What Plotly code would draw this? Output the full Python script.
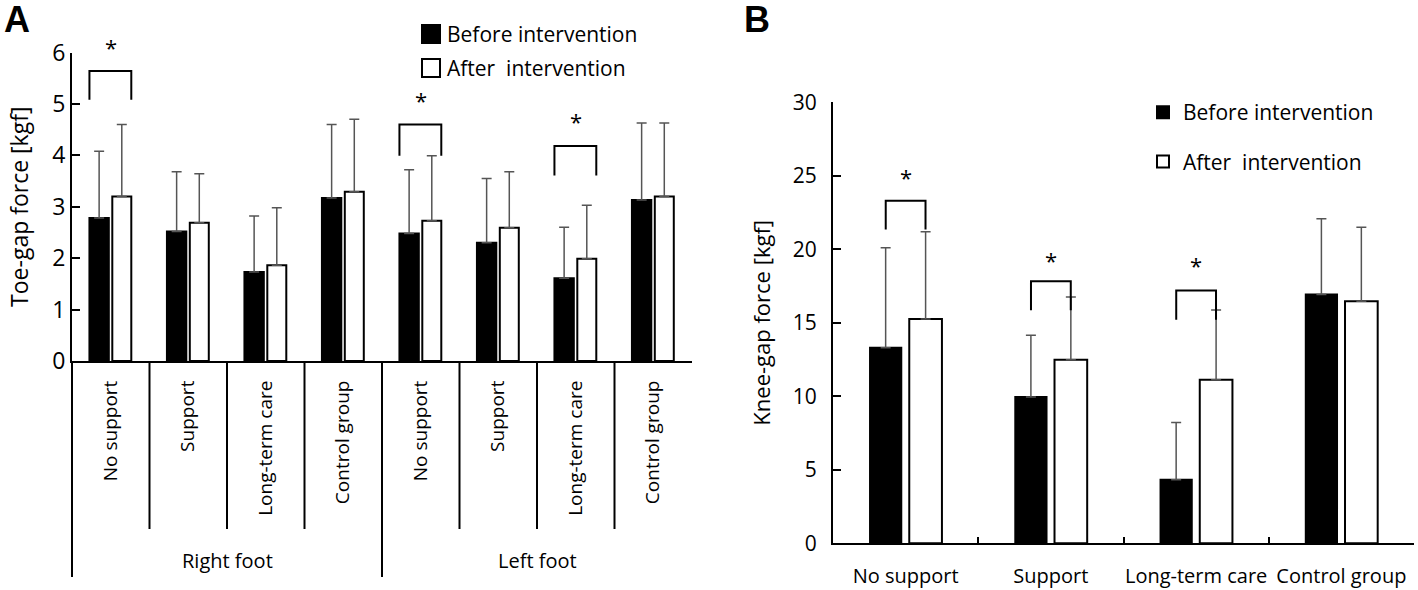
import plotly.graph_objects as go

W, H = 1418, 590
FONT = "Open Sans"

# ---------------- Panel A data (toe-gap force) ----------------
foot_groups = ["Right foot", "Left foot"]
categories_a = ["No support", "Support", "Long-term care", "Control group",
                "No support", "Support", "Long-term care", "Control group"]
toe_before = [2.78, 2.52, 1.73, 3.17, 2.48, 2.30, 1.61, 3.13]
toe_before_sd = [1.30, 1.16, 1.09, 1.43, 1.24, 1.25, 0.99, 1.50]
toe_after = [3.20, 2.69, 1.86, 3.29, 2.73, 2.59, 1.99, 3.20]
toe_after_sd = [1.40, 0.95, 1.12, 1.41, 1.26, 1.09, 1.04, 1.43]
sig_a_idx = [0, 4, 6]
sig_a_top = [5.64, 4.60, 4.18]
sig_a_leg = [5.08, 3.99, 3.61]
star_a_y = [6.13, 5.10, 4.68]
ymax_a = 6

# ---------------- Panel B data (knee-gap force) ----------------
categories_b = ["No support", "Support", "Long-term care", "Control group"]
knee_before = [13.3, 9.95, 4.32, 16.92]
knee_before_sd = [6.8, 4.2, 3.9, 5.15]
knee_after = [15.26, 12.48, 11.12, 16.47]
knee_after_sd = [5.94, 4.28, 4.75, 5.03]
sig_b_idx = [0, 1, 2]
sig_b_top = [23.3, 17.82, 17.2]
sig_b_leg = [21.34, 15.85, 15.2]
star_b_y = [25.0, 19.37, 18.98]
ymax_b = 30

series_names = ["Before intervention", "After  intervention"]


def px_x(p):
    return p / W


def px_y(p):
    return 1 - p / H


fig = go.Figure()

err_style = dict(type="data", symmetric=False, color="#555555", thickness=1.5)

# Panel A bars
xa = list(range(len(categories_a)))
fig.add_trace(go.Bar(
    x=xa, y=toe_before, name=series_names[0], xaxis="x", yaxis="y",
    marker=dict(color="black", line=dict(color="black", width=2)),
    width=0.25, offset=-0.275, showlegend=False,
    error_y=dict(array=toe_before_sd, arrayminus=[0] * len(xa), width=5, **err_style)))
fig.add_trace(go.Bar(
    x=xa, y=toe_after, name=series_names[1], xaxis="x", yaxis="y",
    marker=dict(color="white", line=dict(color="black", width=2)),
    width=0.245, offset=0.02, showlegend=False,
    error_y=dict(array=toe_after_sd, arrayminus=[0] * len(xa), width=5, **err_style)))

# Panel B bars
fig.add_trace(go.Bar(
    x=categories_b, y=knee_before, name=series_names[0], xaxis="x2", yaxis="y2",
    marker=dict(color="black", line=dict(color="black", width=2)),
    width=0.215, offset=-0.245, legendgroup="b1",
    error_y=dict(array=knee_before_sd, arrayminus=[0] * 4, width=5, **err_style)))
fig.add_trace(go.Bar(
    x=categories_b, y=knee_after, name=series_names[1], xaxis="x2", yaxis="y2",
    marker=dict(color="white", line=dict(color="black", width=2)),
    width=0.225, offset=0.025, legendgroup="b2",
    error_y=dict(array=knee_after_sd, arrayminus=[0] * 4, width=5, **err_style)))

shapes = []
annotations = []

# Significance brackets, panel A
for i, top, leg, sy in zip(sig_a_idx, sig_a_top, sig_a_leg, star_a_y):
    x0, x1 = i - 0.275, i + 0.265
    shapes.append(dict(type="path", xref="x", yref="y",
                       path=f"M{x0},{leg} L{x0},{top} L{x1},{top} L{x1},{leg}",
                       line=dict(color="black", width=2)))
    annotations.append(dict(x=i, y=sy / ymax_a, xref="x", yref="y domain", text="*",
                            showarrow=False, xanchor="center", yanchor="middle", yshift=-1,
                            font=dict(size=22, color="black", family=FONT)))

# Significance brackets, panel B
for i, top, leg, sy in zip(sig_b_idx, sig_b_top, sig_b_leg, star_b_y):
    x0, x1 = i - 0.137, i + 0.137
    shapes.append(dict(type="path", xref="x2", yref="y2",
                       path=f"M{x0},{leg} L{x0},{top} L{x1},{top} L{x1},{leg}",
                       line=dict(color="black", width=2)))
    annotations.append(dict(x=i, y=sy / ymax_b, xref="x2", yref="y2 domain", text="*",
                            showarrow=False, xanchor="center", yanchor="middle", yshift=-1,
                            font=dict(size=22, color="black", family=FONT)))

# Panel A category table dividers
n_a = len(categories_a)
per_group = n_a // len(foot_groups)
axis_y = px_y(361)
for k in range(n_a):
    outer = (k % per_group == 0)
    shapes.append(dict(type="line", xref="x domain", yref="paper",
                       x0=k / n_a, x1=k / n_a, y0=axis_y,
                       y1=px_y(577) if outer else px_y(529),
                       line=dict(color="black", width=2)))
for g, name in enumerate(foot_groups):
    annotations.append(dict(x=g * per_group + (per_group - 1) / 2, y=px_y(560),
                            xref="x", yref="paper", text=name, showarrow=False,
                            xanchor="center", yanchor="middle",
                            font=dict(size=20, color="black", family=FONT)))

# Panel A manual legend (large squares)
for row, (name, fill) in enumerate(zip(series_names, ["black", "white"])):
    cy = 34 + row * 34
    shapes.append(dict(type="rect", xref="paper", yref="paper",
                       x0=px_x(422), x1=px_x(440), y0=px_y(cy - 9), y1=px_y(cy + 9),
                       fillcolor=fill, line=dict(color="black", width=2)))
    annotations.append(dict(x=px_x(445), y=px_y(cy), xref="paper", yref="paper",
                            text=name, showarrow=False, xanchor="left", yanchor="middle",
                            font=dict(size=21, color="black", family=FONT)))

# Panel letters
for letter, lx in (("A", 17), ("B", 757)):
    annotations.append(dict(x=px_x(lx), y=1, xref="paper", yref="paper",
                            text=f"<b>{letter}</b>", showarrow=False,
                            xanchor="center", yanchor="top", yshift=3,
                            font=dict(size=36, color="black", family="Liberation Sans")))

axis_common = dict(showline=True, linecolor="black", linewidth=2, showgrid=False,
                   zeroline=False, mirror=False, automargin=False)

fig.update_layout(
    width=W, height=H,
    margin=dict(l=0, r=0, t=0, b=0, autoexpand=False),
    paper_bgcolor="white", plot_bgcolor="white",
    barmode="overlay",
    font=dict(family=FONT, color="black"),
    shapes=shapes, annotations=annotations,
    xaxis=dict(domain=[px_x(72), px_x(692)], range=[-0.5, n_a - 0.5], anchor="y",
               tickvals=xa, ticktext=categories_a, tickangle=-90, ticks="",
               tickfont=dict(size=19, color="black"), ticklabelstandoff=10, **axis_common),
    yaxis=dict(domain=[px_y(361), px_y(52.5)], range=[0, ymax_a], dtick=1, anchor="x",
               ticks="inside", ticklen=8, tickwidth=2, tickcolor="black",
               tickfont=dict(size=23, color="black"),
               title=dict(text="Toe-gap force [kgf]", font=dict(size=23, color="black"), standoff=17),
               **axis_common),
    xaxis2=dict(domain=[px_x(833), px_x(1414)], anchor="y2", type="category",
                categoryorder="array", categoryarray=categories_b, range=[-0.5, 3.5],
                tickson="boundaries", ticks="inside", ticklen=6, tickwidth=2, tickcolor="black",
                tickangle=0, tickfont=dict(size=20, color="black"), ticklabelstandoff=14,
                **axis_common),
    yaxis2=dict(domain=[px_y(543.3), px_y(102.3)], range=[0, ymax_b], dtick=5, anchor="x2",
                ticks="inside", ticklen=8, tickwidth=2, tickcolor="black",
                tickfont=dict(size=21, color="black"), ticklabelstandoff=10,
                title=dict(text="Knee-gap force [kgf]", font=dict(size=22, color="black"), standoff=16),
                **axis_common),
    legend=dict(x=px_x(1143), y=px_y(92), xanchor="left", yanchor="top",
                font=dict(size=21, color="black", family=FONT), bgcolor="rgba(0,0,0,0)",
                traceorder="grouped", tracegroupgap=19, itemwidth=30),
)

fig.write_html("out.html", config={"displayModeBar": False},
               post_script="document.body.style.margin='0px';")
